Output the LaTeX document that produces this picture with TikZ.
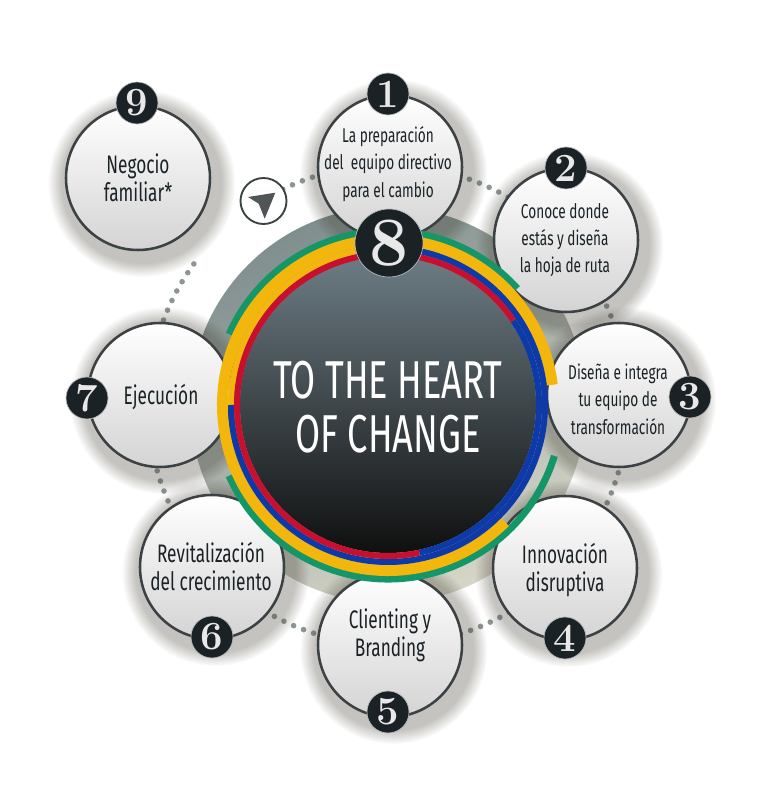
\documentclass[tikz,border=0pt]{standalone}
\usepackage{fontspec}
\newfontfamily\labelfont[FakeStretch=0.68]{Fira Sans}
\usetikzlibrary{shadows}
\definecolor{ringred}{RGB}{200,16,46}
\definecolor{ringblue}{RGB}{14,58,168}
\definecolor{ringyellow}{RGB}{243,182,12}
\definecolor{ringgreen}{RGB}{20,150,104}
\definecolor{halodark}{RGB}{128,142,142}
\definecolor{halolight}{RGB}{214,214,200}
\definecolor{ink}{RGB}{26,34,38}
\definecolor{rim}{RGB}{60,66,68}
\definecolor{coretop}{RGB}{108,124,132}
\definecolor{dotgray}{RGB}{140,150,150}
\begin{document}
\begin{tikzpicture}[x=0.75pt,y=0.75pt,
  stage/.style={circle,draw=rim,line width=1.9pt,minimum size=108pt,inner sep=0pt,
    top color=white,bottom color=black!17,
    circular drop shadow={shadow xshift=2pt,shadow yshift=-3pt,shadow scale=1.3,opacity=0.3,fill=black!75!olive}},
  badge/.style={circle,fill=ink,draw=white!70!ink,line width=0.5pt,minimum size=31.5pt,inner sep=0pt,
    text=white!82!gray,font=\bfseries\fontsize{30}{30}\selectfont},
  stagetext/.style={align=center,text=ink,font=\labelfont\fontsize{15}{20.5}\selectfont},
  bigtext/.style={align=center,text=ink,font=\labelfont\fontsize{19}{21}\selectfont},
  arcline/.style={line width=#1},
  dotline/.style={dotgray,line width=4.2pt,line cap=round,dash pattern=on 0pt off 8pt}]
 \useasboundingbox[fill=white] (0,0) rectangle (768,808);
 \coordinate (c) at (388,403);
 % halo behind the core
 \shade[top color=halodark,bottom color=halolight,shading angle=25] (c) circle[radius=198];
 % dotted path between the stages
 \draw[dotline] (c) ++(116:240) arc[start angle=116,end angle=-196,radius=240];
 \draw[dotline] (c) ++(144:240) arc[start angle=144,end angle=164,radius=240];
 % stages
 \node[stage] (s1) at (390,641) {};
 \node[stage] (s2) at (566,568) {};
 \node[stage] (s3) at (619,413) {};
 \node[stage] (s4) at (565,240) {};
 \node[stage] (s5) at (390,163) {};
 \node[stage] (s6) at (212,241) {};
 \node[stage] (s7) at (160,413) {};
 \node[stage] (s9) at (138,630) {};
 % core and rings
 \shade[top color=coretop,middle color=black!78!coretop,bottom color=black!94] (c) circle[radius=148];
 \draw[arcline=5.25pt,ringgreen] (c) ++(42:174) arc[start angle=42,end angle=156,radius=174];
 \draw[arcline=5.25pt,ringgreen] (c) ++(204:174) arc[start angle=204,end angle=343,radius=174];
 \draw[arcline=8.25pt,ringyellow] (c) ++(7:165.5) arc[start angle=7,end angle=315,radius=165.5];
 \draw[arcline=4.5pt,ringyellow] (c) ++(90:157) arc[start angle=90,end angle=180,radius=157];
 \draw[arcline=4.5pt,ringblue] (c) ++(180:157) arc[start angle=180,end angle=445,radius=157];
 \draw[arcline=4.5pt,ringblue] (c) ++(-78:151) arc[start angle=-78,end angle=34,radius=151];
 \draw[arcline=4.5pt,ringred] (c) ++(34:151) arc[start angle=34,end angle=282,radius=151];
 \node[align=center,text=white,font=\labelfont\fontsize{40}{41}\selectfont] (head) at (388,401) {TO THE HEART\\OF CHANGE};
 % numbers
 \node[badge] (b1) at (388,714) {1};
 \node[badge] (b2) at (566,640) {2};
 \node[badge] (b3) at (690,411) {3};
 \node[badge] (b4) at (565,170) {4};
 \node[badge] (b5) at (388,96) {5};
 \node[badge] (b6) at (212,171) {6};
 \node[badge] (b7) at (87,410) {7};
 \node[badge] (b9) at (137,705) {9};
 \node[badge,minimum size=51pt,font=\bfseries\fontsize{52}{52}\selectfont] (b8) at (389,565) {8};
 % texts
 \node[stagetext] (t1) at (388,644) {La preparación\\del~~equipo directivo\\para el cambio};
 \node[stagetext] (t2) at (565,568) {Conoce donde\\estás y diseña\\la hoja de ruta};
 \node[stagetext] (t3) at (618,409) {Diseña e integra\\tu equipo de\\transformación};
 \node[bigtext] (t4) at (565,238) {Innovación\\disruptiva};
 \node[bigtext] (t5) at (390,173) {Clienting y\\Branding};
 \node[bigtext] (t6) at (211,241) {Revitalización\\del crecimiento};
 \node[bigtext] (t7) at (161,411) {Ejecución};
 \node[bigtext] (t9) at (138,630) {Negocio\\familiar*};
 % pointer icon
 \node[circle,draw=rim,line width=1.4pt,fill=white,minimum size=34.5pt,inner sep=0pt] (pin) at (263.5,607) {};
 \fill[rim!90!white] (pin.center) ++(11.8,8.3) -- ++(-27.3,-4.3) -- ++(10.7,-6.7) -- ++(6,-15) -- cycle;
\end{tikzpicture}
\end{document}
